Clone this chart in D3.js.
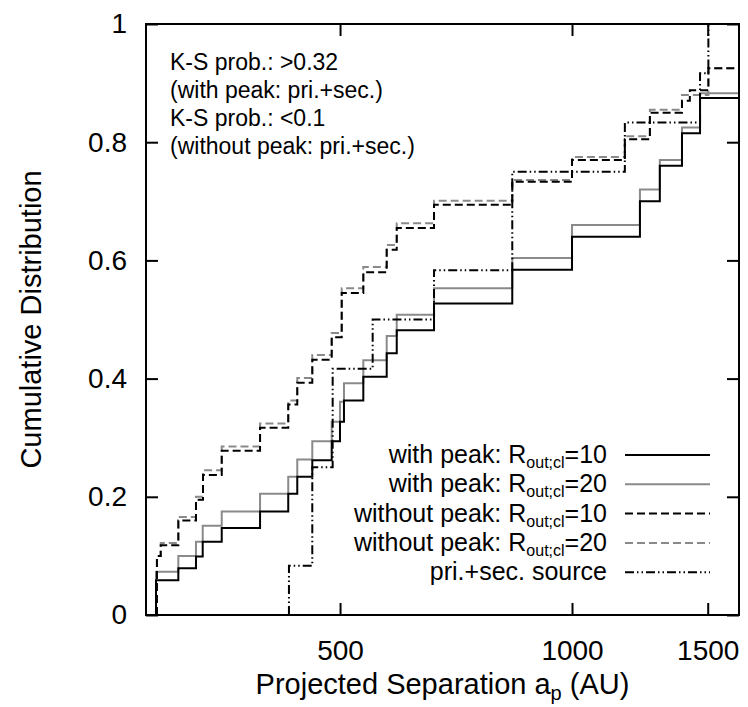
<!DOCTYPE html>
<html>
<head>
<meta charset="utf-8">
<script src="https://cdn.jsdelivr.net/npm/d3@7"></script>
<style>
  html, body { margin: 0; padding: 0; background: #fff; }
  svg { display: block; font-family: "Liberation Sans", Arial, sans-serif; }
</style>
</head>
<body>
<svg id="chart" width="748" height="707"></svg>
<script>
// Step breakpoints: [projected separation (AU), cumulative fraction after the step]
const withPeak10 = [
  [288.5, 0.059], [308.4, 0.079], [325.1, 0.099], [331.7, 0.124], [351.1, 0.147],
  [393.7, 0.175], [428.3, 0.205], [440.0, 0.234], [460.2, 0.262], [487.7, 0.294],
  [499.9, 0.327], [505.9, 0.363], [536.0, 0.403], [574.8, 0.443], [592.3, 0.482],
  [662.1, 0.527], [836.5, 0.584], [1000, 0.640], [1225, 0.700], [1300, 0.760],
  [1389, 0.815], [1466, 0.875]
];
const withPeak20 = [
  [288.5, 0.073], [308.4, 0.100], [325.1, 0.124], [331.7, 0.151], [351.1, 0.175],
  [393.7, 0.205], [428.3, 0.234], [440.0, 0.263], [460.2, 0.294], [487.7, 0.327],
  [499.9, 0.361], [505.9, 0.392], [536.0, 0.431], [574.8, 0.472], [592.3, 0.508],
  [662.1, 0.553], [836.5, 0.604], [1000, 0.660], [1225, 0.720], [1300, 0.770],
  [1389, 0.825], [1466, 0.883]
];
const withoutPeak10 = [
  [289.3, 0.100], [292.6, 0.118], [308.4, 0.160], [325.1, 0.195], [332.0, 0.237],
  [351.1, 0.278], [393.7, 0.317], [428.3, 0.356], [440.0, 0.393], [460.2, 0.432],
  [487.7, 0.470], [502.5, 0.545], [536.0, 0.580], [574.8, 0.618], [592.3, 0.655],
  [662.1, 0.694], [836.5, 0.733], [1000, 0.770], [1171, 0.805], [1262, 0.850],
  [1389, 0.870], [1422, 0.888], [1503, 0.925]
];
const withoutPeak20 = [
  [289.3, 0.100], [292.6, 0.122], [308.4, 0.166], [325.1, 0.200], [332.0, 0.245],
  [351.1, 0.285], [393.7, 0.324], [428.3, 0.363], [440.0, 0.401], [460.2, 0.440],
  [487.7, 0.477], [502.5, 0.553], [536.0, 0.589], [574.8, 0.626], [592.3, 0.663],
  [662.1, 0.701], [836.5, 0.736], [1000, 0.775], [1171, 0.810], [1262, 0.855],
  [1389, 0.880], [1503, 0.925]
];
const sourcePriSec = [
  [429.2, 0.0833], [460.2, 0.25], [489.1, 0.4167], [551.2, 0.5], [662.1, 0.5833],
  [836.5, 0.75], [1171, 0.8333], [1466, 0.9167], [1503, 1.0]
];

const xTicks = [500, 1000, 1500];
const yTicks = [0, 0.2, 0.4, 0.6, 0.8, 1];
const annotation = [
  "K-S prob.: >0.32",
  "(with peak: pri.+sec.)",
  "K-S prob.: <0.1",
  "(without peak: pri.+sec.)"
];

const series = [
  { name: "with peak: ", sub: "out;cl", tail: "=10", data: withPeak10, color: "#000", dash: null },
  { name: "with peak: ", sub: "out;cl", tail: "=20", data: withPeak20, color: "#8a8a8a", dash: null },
  { name: "without peak: ", sub: "out;cl", tail: "=10", data: withoutPeak10, color: "#000", dash: "8,4" },
  { name: "without peak: ", sub: "out;cl", tail: "=20", data: withoutPeak20, color: "#8a8a8a", dash: "8,4" },
  { name: "pri.+sec. source", sub: null, tail: "", data: sourcePriSec, color: "#000", dash: "9,3,1.5,3,1.5,3" }
];

const svg = d3.select("#chart");
const plot = { left: 146, right: 739, top: 24, bottom: 615 };
const fontTick = 28;
const fontTitle = 29;

const x = d3.scaleLog().domain([280, 1647]).range([plot.left, plot.right]);
const y = d3.scaleLinear().domain([0, 1]).range([plot.bottom, plot.top]);

svg.append("defs").append("clipPath").attr("id", "clip")
  .append("rect")
  .attr("x", plot.left).attr("y", plot.top)
  .attr("width", plot.right - plot.left).attr("height", plot.bottom - plot.top);

// Step curves (drawn beneath the frame)
const line = d3.line()
  .x(d => x(d[0]))
  .y(d => y(d[1]))
  .curve(d3.curveStepAfter);

const curves = svg.append("g").attr("clip-path", "url(#clip)");
// grey series first so the black ones sit on top
[1, 3, 0, 2, 4].forEach(i => {
  const s = series[i];
  const pts = [[s.data[0][0], 0], ...s.data, [x.domain()[1], s.data[s.data.length - 1][1]]];
  curves.append("path")
    .attr("d", line(pts))
    .attr("fill", "none")
    .attr("stroke", s.color)
    .attr("stroke-width", 2)
    .attr("stroke-dasharray", s.dash);
});

// Axes with inward ticks, mirrored on top and right
const tickLen = 12;
const axisBottom = d3.axisBottom(x).tickValues(xTicks).tickFormat(d3.format("d"))
  .tickSizeInner(-tickLen).tickSizeOuter(0).tickPadding(25);
const axisTop = d3.axisTop(x).tickValues(xTicks).tickFormat("")
  .tickSizeInner(-tickLen).tickSizeOuter(0);
const axisLeft = d3.axisLeft(y).tickValues(yTicks).tickFormat(d3.format("~g"))
  .tickSizeInner(-tickLen).tickSizeOuter(0).tickPadding(19);
const axisRight = d3.axisRight(y).tickValues(yTicks).tickFormat("")
  .tickSizeInner(-tickLen).tickSizeOuter(0);

function styleAxis(g) {
  g.select(".domain").remove();
  g.selectAll(".tick line").attr("stroke", "#000").attr("stroke-width", 2);
  g.selectAll(".tick text").attr("fill", "#000").attr("font-size", fontTick)
    .attr("font-family", "Liberation Sans, Arial, sans-serif");
}

svg.append("g").attr("transform", `translate(0,${plot.bottom})`).call(axisBottom).call(styleAxis);
svg.append("g").attr("transform", `translate(0,${plot.top})`).call(axisTop).call(styleAxis);
svg.append("g").attr("transform", `translate(${plot.left},0)`).call(axisLeft).call(styleAxis);
svg.append("g").attr("transform", `translate(${plot.right},0)`).call(axisRight).call(styleAxis);

// Frame
svg.append("rect")
  .attr("x", plot.left).attr("y", plot.top)
  .attr("width", plot.right - plot.left).attr("height", plot.bottom - plot.top)
  .attr("fill", "none").attr("stroke", "#000").attr("stroke-width", 2);

// Axis titles
svg.append("text")
  .attr("transform", `translate(41,${(plot.top + plot.bottom) / 2}) rotate(-90)`)
  .attr("text-anchor", "middle")
  .attr("font-size", fontTitle)
  .text("Cumulative Distribution");

const xt = svg.append("text")
  .attr("x", (plot.left + plot.right) / 2)
  .attr("y", 694)
  .attr("text-anchor", "middle")
  .attr("font-size", fontTitle);
xt.append("tspan").text("Projected Separation a");
xt.append("tspan").attr("font-size", 20).attr("dy", 6).text("p");
xt.append("tspan").attr("dy", -6).text(" (AU)");

// K-S annotation
svg.append("g").selectAll("text").data(annotation).join("text")
  .attr("x", 170)
  .attr("y", (d, i) => 70 + i * 28)
  .attr("font-size", 23)
  .text(d => d);

// Legend
const legend = svg.append("g");
series.forEach((s, i) => {
  const ly = 455 + i * 29.3;
  const t = legend.append("text")
    .attr("x", 607).attr("y", ly + 8)
    .attr("text-anchor", "end")
    .attr("font-size", 25);
  if (s.sub) {
    t.append("tspan").text(s.name + "R");
    t.append("tspan").attr("font-size", 16).attr("dy", 5).text(s.sub);
    t.append("tspan").attr("dy", -5).text(s.tail);
  } else {
    t.append("tspan").text(s.name);
  }
  legend.append("line")
    .attr("x1", 625).attr("x2", 710)
    .attr("y1", ly).attr("y2", ly)
    .attr("stroke", s.color).attr("stroke-width", 2)
    .attr("stroke-dasharray", s.dash);
});
</script>
</body>
</html>
